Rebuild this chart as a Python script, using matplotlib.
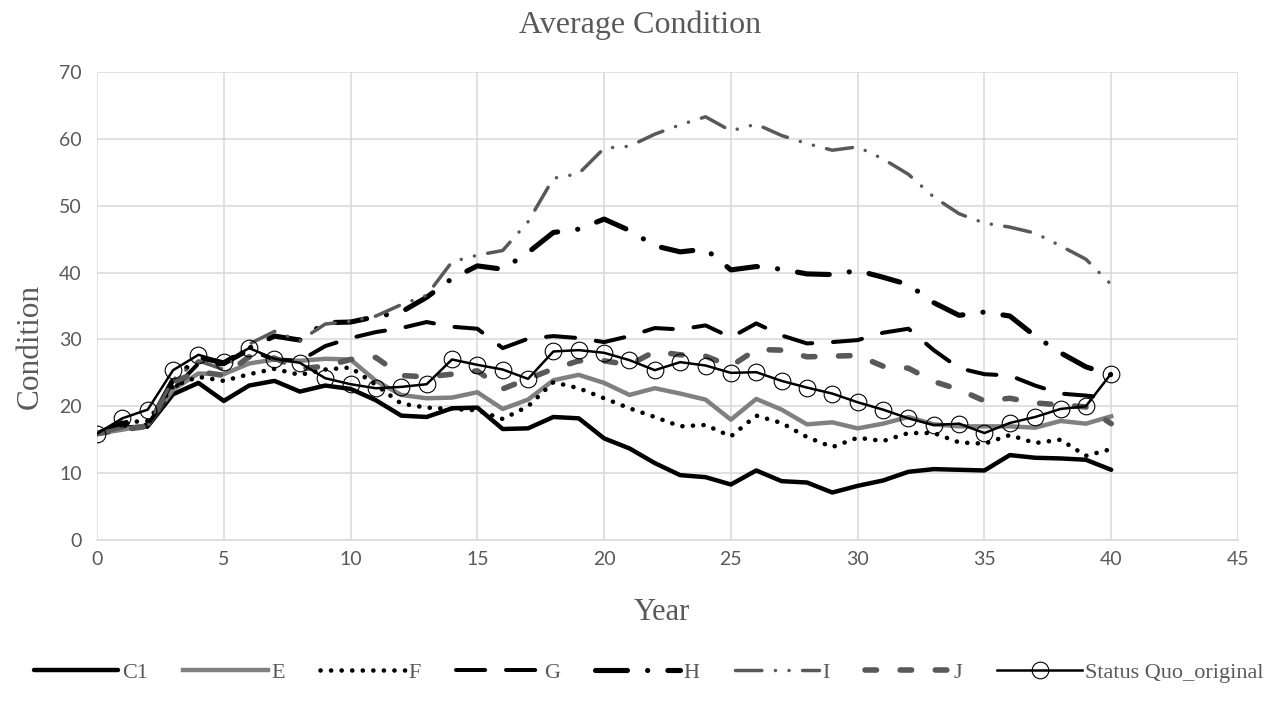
import matplotlib
matplotlib.use("Agg")
import matplotlib.pyplot as plt

years = list(range(0, 41))

C1 = [15.9, 16.8, 17.0, 21.8, 23.5, 20.8, 23.1, 23.8, 22.2, 23.1, 22.6, 20.9, 18.6, 18.4, 19.7, 19.8,
      16.6, 16.7, 18.4, 18.2, 15.2, 13.7, 11.5, 9.7, 9.4, 8.3, 10.4, 8.8, 8.6, 7.1, 8.1, 8.9, 10.2,
      10.6, 10.5, 10.4, 12.7, 12.3, 12.2, 12.0, 10.5]
E = [15.9, 16.5, 17.2, 22.5, 24.9, 24.8, 26.4, 27.0, 26.8, 27.1, 27.0, 23.8, 21.7, 21.2, 21.3, 22.1,
     19.6, 21.0, 23.9, 24.7, 23.5, 21.7, 22.7, 21.9, 21.0, 18.0, 21.1, 19.5, 17.3, 17.6, 16.7, 17.4,
     18.4, 17.3, 17.0, 17.0, 17.0, 16.8, 17.8, 17.4, 18.5]
F = [15.9, 17.6, 17.8, 23.0, 24.4, 23.8, 24.8, 25.6, 24.7, 25.5, 25.8, 23.2, 20.4, 19.8, 19.6, 19.4,
     18.1, 20.0, 23.6, 22.7, 21.2, 19.7, 18.4, 17.0, 17.2, 15.5, 18.6, 17.5, 15.4, 13.9, 15.3, 14.8,
     16.0, 16.0, 14.6, 14.4, 15.7, 14.5, 15.0, 12.6, 13.6]
G = [15.9, 17.0, 17.3, 22.5, 26.4, 26.3, 28.4, 27.0, 26.8, 29.0, 30.2, 31.1, 31.7, 32.6, 31.9, 31.6,
     28.7, 30.1, 30.5, 30.2, 29.6, 30.5, 31.7, 31.5, 32.1, 30.3, 32.4, 30.6, 29.4, 29.6, 29.9, 31.0,
     31.6, 28.4, 25.7, 24.8, 24.6, 23.1, 21.9, 21.6, 21.2]
H = [15.9, 17.5, 17.0, 24.0, 27.3, 26.5, 28.7, 30.5, 29.9, 32.5, 32.6, 33.4, 34.1, 36.3, 39.1, 41.0,
     40.5, 43.0, 46.0, 46.5, 48.0, 46.3, 44.0, 43.1, 43.5, 40.4, 40.9, 40.5, 39.8, 39.7, 40.3, 39.3,
     38.2, 35.5, 33.6, 34.1, 33.5, 30.5, 28.0, 25.9, 24.7]
I = [15.9, 16.8, 17.0, 24.0, 26.8, 25.5, 29.3, 31.2, 29.8, 32.3, 32.7, 33.5, 35.2, 36.6, 41.6, 42.6,
     43.3, 47.6, 54.1, 54.8, 58.6, 58.9, 60.7, 62.1, 63.3, 61.2, 62.2, 60.5, 59.3, 58.3, 58.8, 57.0,
     54.7, 51.3, 48.8, 47.4, 46.8, 45.9, 44.0, 42.0, 38.2]
J = [15.9, 16.5, 17.0, 23.6, 25.2, 24.6, 27.4, 27.2, 25.6, 26.0, 27.0, 27.3, 24.6, 24.4, 24.8, 25.3,
     22.6, 24.1, 25.6, 26.8, 26.8, 26.2, 28.2, 27.7, 27.5, 26.0, 28.5, 28.4, 27.4, 27.5, 27.6, 26.0,
     25.7, 23.7, 22.5, 20.8, 21.2, 20.5, 20.2, 19.9, 17.4]
SQ = [15.9, 18.2, 19.5, 25.4, 27.7, 26.6, 28.7, 27.1, 26.5, 24.2, 23.3, 22.7, 22.9, 23.3, 27.0, 26.2,
      25.5, 24.1, 28.2, 28.4, 28.0, 26.9, 25.4, 26.6, 26.1, 25.0, 25.1, 23.8, 22.8, 21.9, 20.6, 19.5,
      18.2, 17.2, 17.4, 16.0, 17.5, 18.4, 19.6, 20.0, 24.9]

series_names = ["C1", "E", "F", "G", "H", "I", "J", "Status Quo_original"]
x_ticks = list(range(0, 46, 5))
y_ticks = list(range(0, 71, 10))

plt.rcParams['lines.scale_dashes'] = False

W, Hh = 1272, 702
fig = plt.figure(figsize=(W / 100, Hh / 100), dpi=100)
ax = fig.add_axes([97 / W, 1 - 540 / Hh, (1238 - 97) / W, (540 - 72) / Hh])

black = "#000000"
lgray = "#808080"
dgray = "#595959"

ax.plot(years, C1, color=black, lw=3.2, solid_capstyle='round', solid_joinstyle='round', label=series_names[0])
ax.plot(years, E, color=lgray, lw=3.2, solid_joinstyle='round', label=series_names[1])
lf, = ax.plot(years, F, color=black, lw=3.3, dash_capstyle='round', label=series_names[2])
lf.set_dashes((0.1, 7.5))
lg, = ax.plot(years, G, color=black, lw=2.9, dash_capstyle='round', dash_joinstyle='round', label=series_names[3])
lg.set_dashes((21, 15))
lh, = ax.plot(years, H, color=black, lw=3.7, dash_capstyle='round', dash_joinstyle='round', label=series_names[4])
lh.set_dashes((23, 14.5, 0.1, 14.5))
li, = ax.plot(years, I, color=dgray, lw=2.5, dash_capstyle='round', dash_joinstyle='round', label=series_names[5])
li.set_dashes((19, 9.7, 0.1, 9.7, 0.1, 9.7))
lj, = ax.plot(years, J, color=dgray, lw=4.0, dash_capstyle='round', dash_joinstyle='round', label=series_names[6])
lj.set_dashes((8.3, 17))
ax.plot(years, SQ, color=black, lw=1.8, marker='o', markersize=12, markerfacecolor='none',
        markeredgecolor=black, markeredgewidth=0.8, label=series_names[7])

ax.set_xlim(0, 45)
ax.set_ylim(0, 70)
ax.set_xticks(x_ticks)
ax.set_yticks(y_ticks)
ax.grid(True, color="#d9d9d9", lw=1.1)
ax.set_axisbelow(True)
for s in ["top", "right", "left"]:
    ax.spines[s].set_visible(False)
ax.spines["bottom"].set_color("#d9d9d9")
ax.spines["bottom"].set_linewidth(1.1)
ax.tick_params(length=0, labelsize=14, labelcolor=dgray, pad=8)
ax.tick_params(axis='y', pad=11)
for t in ax.get_xticklabels() + ax.get_yticklabels():
    t.set_family("Lato")

serif = "Liberation Serif"
fig.text(640 / W, 1 - 25 / Hh, "Average Condition", ha="center", va="center",
         fontsize=23, family=serif, color=dgray)
fig.text(662 / W, 1 - 612 / Hh, "Year", ha="center", va="center",
         fontsize=22, family=serif, color=dgray)
fig.text(30 / W, 1 - 346 / Hh, "Condition", ha="center", va="center", rotation=90,
         fontsize=22.5, family=serif, color=dgray)

leg = fig.legend(loc="center", bbox_to_anchor=(0.51, 1 - 673 / Hh), ncol=8, frameon=False,
                 handlelength=3.8, handletextpad=0.15, columnspacing=1.6,
                 prop={"family": serif, "size": 16})
for t in leg.get_texts():
    t.set_color(dgray)

fig.savefig("out.png", dpi=100)
